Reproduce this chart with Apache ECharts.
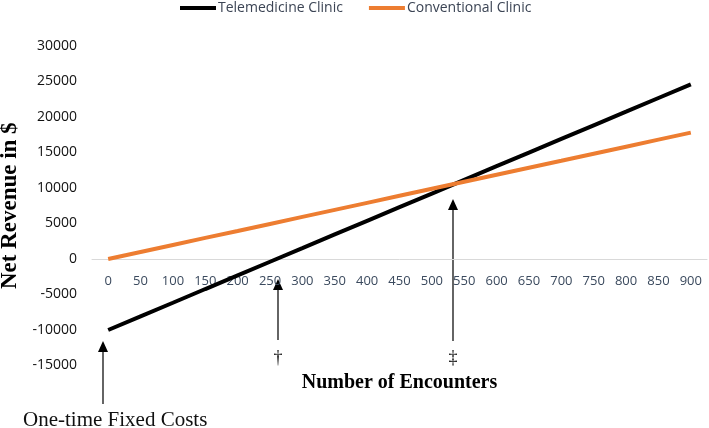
<!DOCTYPE html>
<html>
<head>
<meta charset="utf-8">
<script src="https://cdn.jsdelivr.net/npm/echarts@6/dist/echarts.min.js"></script>
<style>
html,body{margin:0;padding:0;background:#fff;}
#chart{width:709px;height:428px;}
</style>
</head>
<body>
<div id="chart"></div>
<script>
const categories = ['0','50','100','150','200','250','300','350','400','450','500','550','600','650','700','750','800','850','900'];
const telemedicine = [-10000,-8080,-6160,-4230,-2310,-390,1530,3460,5380,7300,9220,11140,13070,14990,16910,18830,20750,22680,24600];
const conventional = [0,990,1980,2970,3950,4940,5930,6920,7910,8900,9890,10880,11870,12860,13840,14830,15820,16810,17800];
const seriesNames = ['Telemedicine Clinic','Conventional Clinic'];
const yMin = -15000, yMax = 30000, yStep = 5000;

const chart = echarts.init(document.getElementById('chart'));

const gridTop = 46, gridBottom = 62.5, H = 428;
const plotH = H - gridTop - gridBottom;
// distance from grid bottom up to the zero value line
const zeroOffset = plotH * (0 - yMin) / (yMax - yMin);

function arrow(x, yTip, yBottom) {
  return [
    {type:'line', shape:{x1:x, y1:yBottom, x2:x, y2:yTip+9}, style:{stroke:'#111', lineWidth:1.3}},
    {type:'polygon', shape:{points:[[x,yTip],[x-5,yTip+11],[x+5,yTip+11]]}, style:{fill:'#000'}}
  ];
}

chart.setOption({
  animation:false,
  backgroundColor:'#fff',
  legend:{
    left:180, top:1, padding:0,
    icon:'rect', itemWidth:36, itemHeight:4, itemGap:26,
    textStyle:{fontFamily:'Open Sans', fontSize:14, color:'#3B4454', padding:[0,0,0,-3]},
    data:seriesNames
  },
  grid:{left:92, right:2, top:gridTop, bottom:gridBottom, containLabel:false, outerBoundsMode:'none'},
  xAxis:{
    type:'category', data:categories, boundaryGap:true,
    offset:-zeroOffset,
    axisLine:{onZero:false, lineStyle:{color:'#D9D9D9', width:1}},
    axisTick:{show:false},
    axisLabel:{margin:16, fontFamily:'Open Sans', fontSize:13, color:'#3B4A5E', interval:0},
    name:'Number of Encounters', nameLocation:'middle', nameGap:114,
    nameTextStyle:{fontFamily:'Liberation Serif', fontWeight:'bold', fontSize:20, color:'#000'}
  },
  yAxis:{
    type:'value', min:yMin, max:yMax, interval:yStep,
    axisLine:{show:false}, axisTick:{show:false}, splitLine:{show:false},
    axisLabel:{margin:15, fontFamily:'Open Sans', fontSize:14, color:'#111', formatter:function(v){return String(v);}},
    name:'Net Revenue in $', nameLocation:'middle', nameGap:64,
    nameTextStyle:{fontFamily:'Liberation Serif', fontWeight:'bold', fontSize:23, color:'#000'}
  },
  series:[
    {name:seriesNames[0], type:'line', data:telemedicine, symbol:'none', lineStyle:{color:'#000', width:4}, itemStyle:{color:'#000'}},
    {name:seriesNames[1], type:'line', data:conventional, symbol:'none', lineStyle:{color:'#ED7D31', width:4}, itemStyle:{color:'#ED7D31'}}
  ],
  graphic:[].concat(
    arrow(103, 341, 404),
    arrow(278, 279, 340),
    arrow(453, 199, 341),
    [
      {type:'text', x:23, y:420, style:{text:'One-time Fixed Costs', font:'21px "Liberation Serif"', fill:'#111', align:'left', verticalAlign:'middle'}},
      {type:'text', x:278, y:358, style:{text:'†', font:'18px "Liberation Serif"', fill:'#111', align:'center', verticalAlign:'middle'}},
      {type:'text', x:453, y:358, style:{text:'‡', font:'18px "Liberation Serif"', fill:'#111', align:'center', verticalAlign:'middle'}}
    ]
  )
});
</script>
</body>
</html>
